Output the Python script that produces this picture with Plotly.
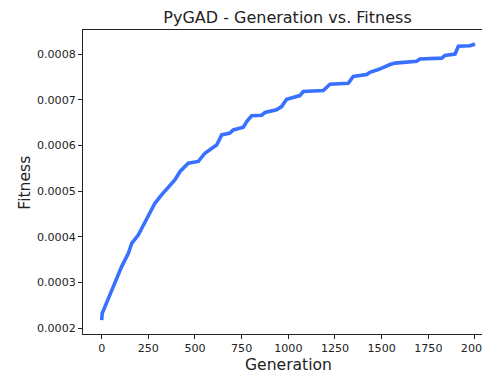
import plotly.graph_objects as go

# Best fitness per generation (step points of the run)
generations = [0, 3, 44, 107, 143, 161, 196, 241, 259, 286, 321, 366, 393, 420, 464,
               518, 553, 598, 616, 643, 687, 705, 759, 777, 804, 857, 875, 937, 964,
               991, 1045, 1062, 1080, 1187, 1223, 1321, 1348, 1420, 1437, 1482, 1545,
               1571, 1688, 1705, 1822, 1839, 1893, 1911, 1973, 2000]
fitness = [0.000218, 0.000233, 0.000273, 0.000335, 0.000364, 0.000386, 0.000404,
           0.000437, 0.000452, 0.000474, 0.000492, 0.000514, 0.000525, 0.000543,
           0.000561, 0.000565, 0.000583, 0.000596, 0.000601, 0.000623, 0.000627,
           0.000634, 0.000640, 0.000652, 0.000665, 0.000666, 0.000672, 0.000678,
           0.000685, 0.000701, 0.000706, 0.000709, 0.000718, 0.000720, 0.000734,
           0.000736, 0.000751, 0.000755, 0.000760, 0.000766, 0.000777, 0.000780,
           0.000784, 0.000789, 0.000791, 0.000797, 0.000800, 0.000817, 0.000818,
           0.000822]

x_ticks = [0, 250, 500, 750, 1000, 1250, 1500, 1750, 2000]
y_ticks = [0.0002, 0.0003, 0.0004, 0.0005, 0.0006, 0.0007, 0.0008]

title_text = "PyGAD - Generation vs. Fitness"
x_label = "Generation"
y_label = "Fitness"

FONT = "DejaVu Sans"
W, H = 482, 374
L, T, B = 83, 30, 40

fig = go.Figure()
fig.add_trace(go.Scatter(
    x=generations, y=fitness, mode="lines",
    line=dict(color="#3870FF", width=3.6),
    hoverinfo="skip",
))

axis_common = dict(
    showgrid=False, zeroline=False, showline=True, linecolor="#222", linewidth=1,
    ticks="outside", ticklen=4, tickwidth=1, tickcolor="#222", automargin=False,
    tickfont=dict(family=FONT, size=11.1, color="#222"),
)

fig.update_layout(
    width=W, height=H,
    margin=dict(l=L, r=0, t=T, b=B, pad=0, autoexpand=False),
    paper_bgcolor="white", plot_bgcolor="white",
    showlegend=False,
    title=dict(text=title_text, font=dict(family=FONT, size=16, color="#222"),
               xref="container", x=287.5 / W, xanchor="center",
               yref="container", y=1 - 17 / H, yanchor="middle"),
    xaxis=dict(range=[-100, 2037.6], tickvals=x_ticks,
               ticktext=[str(v) for v in x_ticks], mirror=True,
               ticklabeloverflow="allow", **axis_common),
    yaxis=dict(range=[0.0001875, 0.0008525], tickvals=y_ticks,
               ticktext=[f"{v:.4f}" for v in y_ticks], **axis_common),
    annotations=[
        dict(text=x_label, xref="paper", yref="paper", x=(288 - L) / (W - L),
             y=(H - B - 364.5) / (H - B - T), xanchor="center", yanchor="middle",
             showarrow=False, font=dict(family=FONT, size=15.6, color="#222")),
        dict(text=y_label, xref="paper", yref="paper", x=(24.2 - L) / (W - L),
             y=(H - B - 182.5) / (H - B - T), xanchor="center", yanchor="middle",
             textangle=-90, showarrow=False,
             font=dict(family=FONT, size=15.6, color="#222")),
    ],
)

fig.write_html("out.html")
